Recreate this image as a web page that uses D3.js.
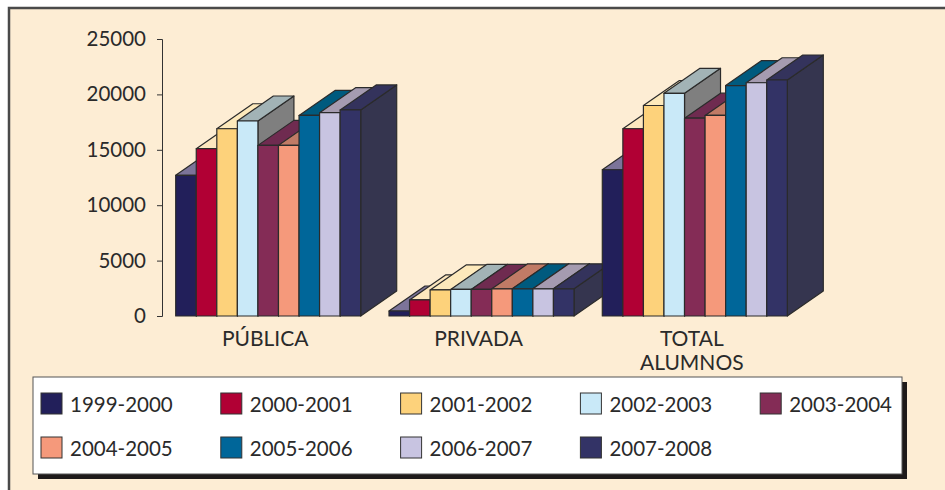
<!DOCTYPE html>
<html>
	<head>
		<meta charset="UTF-8">
		<title>Alumnos por sector</title>
		<style>
			body { margin: 0; background: #ffffff; }
			svg { display: block; font-family: Lato, "Open Sans", sans-serif; }
		</style>
		<script src="https://cdn.jsdelivr.net/npm/d3@7"></script>
	</head>
	<body>
		<div id="chart"></div>
		<script>
			const categories = ["PÚBLICA", "PRIVADA", "TOTAL ALUMNOS"];
			const seriesNames = ["1999-2000", "2000-2001", "2001-2002", "2002-2003", "2003-2004",
								 "2004-2005", "2005-2006", "2006-2007", "2007-2008"];
			const publica = [12700, 15100, 16900, 17600, 15400, 15400, 18100, 18350, 18600];
			const privada = [450, 1450, 2350, 2400, 2400, 2450, 2450, 2450, 2450];
			const total = [13200, 16900, 19000, 20100, 17850, 18100, 20800, 21050, 21300];
			const yTicks = [0, 5000, 10000, 15000, 20000, 25000];

			const frontColors = ["#221f5a", "#b10034", "#fdd27b", "#c9e9f8", "#842c56",
								 "#f5997b", "#006699", "#c8c4e1", "#333366"];
			const topColors = ["#7c7499", "#fde7be", "#fde9bb", "#a2b3b6", "#6f2b50",
							   "#c17b66", "#005a7e", "#a59bb0", "#34335c"];
			const sideColors = ["#1a1845", "#80002a", "#c9a05c", "#7f7f7f", "#5e1f3e",
								"#b8705a", "#004c6e", "#9893ab", "#35354f"];

			const rows = categories.map((c, i) => ({ cat: c, values: [publica, privada, total][i] }));

			const w = 945;
			const h = 490;
			const dx = 36;
			const dy = 25;
			const font = "Lato, 'Open Sans', sans-serif";

			const svg = d3.select("#chart")
						  .append("svg")
						  .attr("width", w)
						  .attr("height", h);

			// panel
			svg.append("rect")
			   .attr("x", 9)
			   .attr("y", 8)
			   .attr("width", w + 20)
			   .attr("height", h + 20)
			   .attr("fill", "#fdedd4")
			   .attr("stroke", "#4a4a4a")
			   .attr("stroke-width", 2.5);

			const x0 = d3.scaleBand()
						 .domain(categories)
						 .range([175.7, 787.3])
						 .paddingInner(0.1327);

			const x1 = d3.scaleBand()
						 .domain(d3.range(seriesNames.length))
						 .range([0, x0.bandwidth()]);

			const y = d3.scaleLinear()
						.domain([0, 25000])
						.range([316, 39]);

			const yAxis = d3.axisLeft(y)
							.tickValues(yTicks)
							.tickSize(5)
							.tickPadding(11)
							.tickFormat(d3.format("d"));

			const gy = svg.append("g")
						  .attr("transform", "translate(162, 0)")
						  .call(yAxis)
						  .attr("font-family", font)
						  .attr("font-size", 20.5);
			gy.selectAll("path, line").attr("stroke", "#333");
			gy.selectAll("text").attr("fill", "#2a2a2a");

			const groups = svg.selectAll("g.group")
							  .data(rows)
							  .enter()
							  .append("g")
							  .attr("class", "group")
							  .attr("transform", d => `translate(${x0(d.cat)}, 0)`);

			const bars = groups.selectAll("g.bar")
							   .data(d => d.values.map((v, i) => ({ v, i })))
							   .enter()
							   .append("g")
							   .attr("class", "bar")
							   .attr("stroke", "#2b2b2b")
							   .attr("stroke-width", 1.2)
							   .attr("stroke-linejoin", "round");

			const bw = x1.bandwidth();
			const base = y(0);

			bars.append("polygon")
				.attr("fill", d => sideColors[d.i])
				.attr("points", d => {
					const bx = x1(d.i) + bw, t = y(d.v);
					return [[bx, t], [bx + dx, t - dy], [bx + dx, base - dy], [bx, base]].join(" ");
				});

			bars.append("polygon")
				.attr("fill", d => topColors[d.i])
				.attr("points", d => {
					const bx = x1(d.i), t = y(d.v);
					return [[bx, t], [bx + bw, t], [bx + bw + dx, t - dy], [bx + dx, t - dy]].join(" ");
				});

			bars.append("rect")
				.attr("x", d => x1(d.i))
				.attr("y", d => y(d.v))
				.attr("width", bw)
				.attr("height", d => base - y(d.v))
				.attr("fill", d => frontColors[d.i]);

			// category labels
			svg.selectAll("text.cat")
			   .data(categories)
			   .enter()
			   .append("text")
			   .attr("class", "cat")
			   .attr("x", d => x0(d) + x0.bandwidth() / 2 - 3)
			   .attr("y", 346)
			   .attr("text-anchor", "middle")
			   .style("font-size", "21px")
			   .attr("fill", "#2a2a2a")
			   .selectAll("tspan")
			   .data(d => d.split(" "))
			   .enter()
			   .append("tspan")
			   .attr("x", function () { return d3.select(this.parentNode).attr("x"); })
			   .attr("dy", (d, i) => i ? 24 : 0)
			   .text(d => d);

			// legend
			const lx = 33, ly = 377, lw = 869, lh = 97;
			svg.append("rect")
			   .attr("x", lx + 5)
			   .attr("y", ly + 5)
			   .attr("width", lw)
			   .attr("height", lh)
			   .attr("fill", "#1e1a1a");
			svg.append("rect")
			   .attr("x", lx)
			   .attr("y", ly)
			   .attr("width", lw)
			   .attr("height", lh)
			   .attr("fill", "#ffffff")
			   .attr("stroke", "#555")
			   .attr("stroke-width", 1);

			const items = svg.selectAll("g.item")
							 .data(seriesNames)
							 .enter()
							 .append("g")
							 .attr("class", "item")
							 .attr("transform", (d, i) => `translate(${41 + (i % 5) * 179.8}, ${393 + Math.floor(i / 5) * 44})`);

			items.append("rect")
				 .attr("width", 21)
				 .attr("height", 21)
				 .attr("fill", (d, i) => frontColors[i])
				 .attr("stroke", "#333")
				 .attr("stroke-width", 1);

			items.append("text")
				 .attr("x", 29)
				 .attr("y", 19)
				 .style("font-size", "20.5px")
				 .attr("fill", "#2a2a2a")
				 .text(d => d);
		</script>
	</body>
</html>
